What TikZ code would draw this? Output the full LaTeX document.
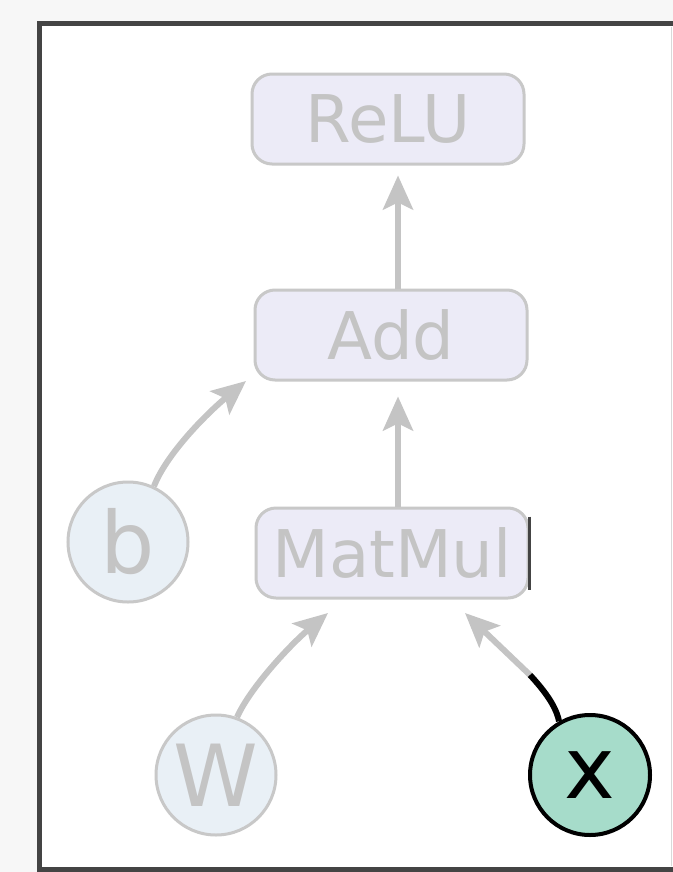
\documentclass[tikz,border=0pt]{standalone}
\usepackage{fontspec}
\setmainfont{DejaVu Sans}
\usetikzlibrary{arrows.meta}
\definecolor{bgc}{HTML}{F7F7F7}
\definecolor{framec}{HTML}{444444}
\definecolor{boxfill}{HTML}{ECEBF7}
\definecolor{boxline}{HTML}{C8C8C8}
\definecolor{txtc}{HTML}{C4C4C4}
\definecolor{circfill}{HTML}{E9F0F6}
\definecolor{xfill}{HTML}{A6DCCA}
\definecolor{arrc}{HTML}{C4C4C4}
\begin{document}
\begin{tikzpicture}[x=1bp,y=-1bp,
  opbox/.style={draw=boxline, fill=boxfill, line width=3bp, rounded corners=20bp,
    minimum width=272bp, minimum height=90bp, text=txtc, inner sep=0pt,
    font=\fontsize{66}{72}\selectfont},
  varnode/.style={circle, draw=boxline, fill=circfill, line width=3bp,
    minimum size=120bp, inner sep=0pt, text=txtc, font=\fontsize{86}{92}\selectfont},
  activenode/.style={varnode, draw=black, line width=4bp, fill=xfill, text=black},
  arr/.style={draw=arrc, line width=6bp, -{Stealth[length=34bp, width=30bp, inset=7bp]}},
  activeedge/.style={draw=black, line width=6bp}
]
\useasboundingbox (0,0) rectangle (673,872);
\fill[bgc] (0,0) rectangle (673,872);
\draw[framec, line width=5bp, fill=white] (39.5,23) rectangle (700,869.5);
\draw[black!15, line width=1bp] (671,27) -- (671,866);

\node[opbox] (relu) at (388,119) {ReLU};
\node[opbox] (add) at (391,335) {Add};
\node[opbox] (matmul) at (392,553) {MatMul};
\node[varnode] (b) at (128,542) {b};
\node[varnode] (W) at (216,775) {W};
\node[activenode] (x) at (590,775) {x};

\draw[framec, line width=2.5bp] ([yshift=-10bp]matmul.north east) -- ([yshift=10bp]matmul.south east);

\coordinate (a1) at ([xshift=7bp]add.north);
\coordinate (m1) at ([xshift=6bp]matmul.north);
\coordinate (btip) at (246,381);
\coordinate (wtip) at (328,613);
\coordinate (xmid) at (530,675);
\coordinate (xtip) at (465,613);

\draw[arr, shorten >=10bp] (a1) -- (a1 |- relu.south);
\draw[arr, shorten >=15bp] (m1) -- (m1 |- add.south);
\draw[arr] (b.65) .. controls (166,455) and (205,415) .. (btip);
\draw[arr] (W.70) .. controls (250,688) and (290,645) .. (wtip);
\draw[arr] (xmid) -- (xtip);
\draw[activeedge] (x.120) .. controls (556,705) and (542,688) .. (xmid);
\end{tikzpicture}
\end{document}
